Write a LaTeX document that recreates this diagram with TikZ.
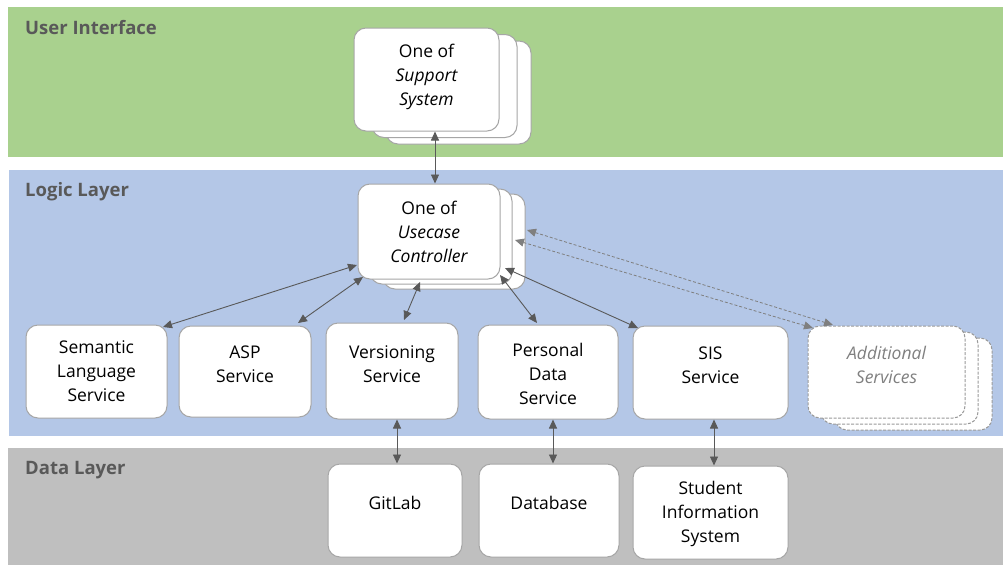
\documentclass[tikz,border=0pt]{standalone}
\usepackage{fontspec}
\setmainfont{Open Sans}
\usetikzlibrary{arrows.meta}
\definecolor{uigreen}{HTML}{A9D18E}
\definecolor{logicblue}{HTML}{B4C7E7}
\definecolor{datagrey}{HTML}{BFBFBF}
\definecolor{labelgrey}{HTML}{595959}
\definecolor{edgegrey}{HTML}{A6A6A6}
\definecolor{arrowgrey}{HTML}{595959}
\definecolor{dashgrey}{HTML}{7F7F7F}
\definecolor{addtext}{HTML}{808080}
\newcommand{\bt}[4]{\parbox[c][#2pt][c]{#1pt}{\centering #4\par\vspace{#3pt}}}
\begin{document}
\begin{tikzpicture}[x=1pt,y=-1pt,
  box/.style={draw=edgegrey, fill=white, rounded corners=12pt, line width=1pt, inner sep=0pt,
    font=\fontsize{17.5}{24}\selectfont},
  dbox/.style={box, draw=dashgrey!80, dash pattern=on 3pt off 1.5pt},
  layerlabel/.style={anchor=west, inner sep=0pt, text=labelgrey, font=\fontsize{18.5}{22}\selectfont\bfseries},
  arr/.style={draw=arrowgrey, line width=0.9pt, {Triangle[length=9pt,width=8pt]}-{Triangle[length=9pt,width=8pt]}},
  darr/.style={draw=dashgrey, line width=0.8pt, dash pattern=on 3pt off 2pt, {Triangle[length=9pt,width=8pt]}-{Triangle[length=9pt,width=8pt]}}
]
\useasboundingbox (0,0) rectangle (1003,565);
\fill[white] (0,0) rectangle (1003,565);
% layers
\fill[uigreen] (8,7) rectangle (1003,157);
\fill[logicblue] (9,170) rectangle (1003,436);
\fill[datagrey] (8,448) rectangle (1003,565);
\node[layerlabel] (lui) at (25,28) {User Interface};
\node[layerlabel] (llogic) at (25,192) {Logic Layer};
\node[layerlabel] (ldata) at (25,470) {Data Layer};

% support system stack
\node[box, minimum width=145pt, minimum height=103pt] (sup3) at (458.5,92.5) {};
\node[box, minimum width=145pt, minimum height=103pt] (sup2) at (444.5,86) {};
\node[box] (sup) at (426.5,79.5) {\bt{145}{103}{5}{One of\\\itshape Support\\ System}};

% usecase controller stack
\node[box, minimum width=142pt, minimum height=95pt] (uc3) at (454,241.5) {};
\node[box, minimum width=142pt, minimum height=95pt] (uc2) at (441,236.5) {};
\node[box] (uc) at (429,231.5) {\bt{142}{95}{0}{One of\\\itshape Usecase\\ Controller}};

% services
\node[box] (sem) at (96.5,371.5) {\bt{141}{93}{0}{Semantic\\Language\\Service}};
\node[box] (asp) at (245,371.5) {\bt{132}{91}{15}{ASP\\Service}};
\node[box] (vers) at (392,371) {\bt{132}{96}{14}{Versioning\\Service}};
\node[box] (pers) at (548,372) {\bt{140}{94}{-4}{Personal\\Data\\Service}};
\node[box] (sis) at (710.5,372.5) {\bt{155}{93}{15}{SIS\\Service}};
\node[dbox, minimum width=157pt, minimum height=92pt] (add3) at (913.5,384) {};
\node[dbox, minimum width=157pt, minimum height=92pt] (add2) at (899.5,378) {};
\node[dbox] (add) at (886.5,372) {\bt{157}{92}{14}{\color{addtext}\itshape Additional\\Services}};

% data layer
\node[box] (git) at (395,510.5) {\bt{134}{93}{15}{GitLab}};
\node[box] (db) at (549,510.5) {\bt{140}{93}{15}{Database}};
\node[box] (stud) at (710.5,512.5) {\bt{155}{93}{-3}{Student\\Information\\System}};

% vertical connectors
\draw[arr] ([xshift=8.5pt]sup.south) -- ([xshift=8.5pt]sup.south |- uc.north);
\draw[arr] ([xshift=5pt]vers.south) -- ([xshift=5pt]vers.south |- git.north);
\draw[arr] ([xshift=5pt]pers.south) -- ([xshift=5pt]pers.south |- db.north);
\draw[arr] ([xshift=3.5pt]sis.south) -- ([xshift=3.5pt]sis.south |- stud.north);

% diagonal connectors
\draw[arr] ([shift={(-72,33.5)}]uc.center) -- ([shift={(66.5,-44.5)}]sem.center);
\draw[arr] ([shift={(-66,45.5)}]uc.center) -- ([shift={(53,-48.5)}]asp.center);
\draw[arr] ([shift={(-9,50.5)}]uc.center) -- ([shift={(12,-51)}]vers.center);
\draw[arr] ([shift={(71,43.5)}]uc.center) -- ([shift={(-11,-49)}]pers.center);
\draw[arr] ([shift={(76,36.5)}]uc.center) -- ([shift={(-72.5,-44.5)}]sis.center);
\draw[darr] ([shift={(98,-1.5)}]uc.center) -- ([shift={(-53.5,-47)}]add.center);
\draw[darr] ([shift={(86,8.5)}]uc.center) -- ([shift={(-73.5,-44)}]add.center);
\end{tikzpicture}
\end{document}
